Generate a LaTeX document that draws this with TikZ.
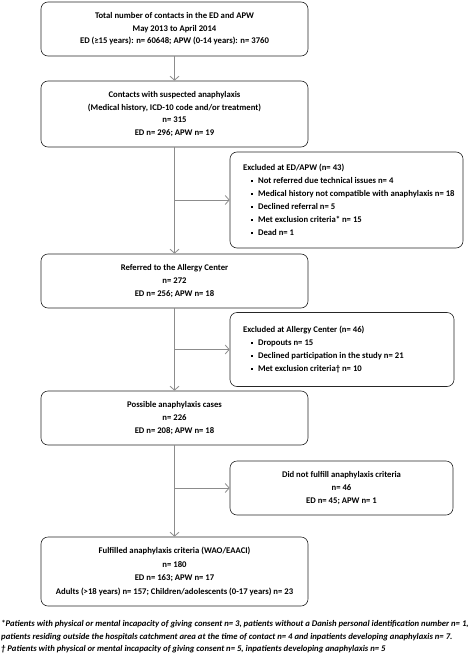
\documentclass[tikz,border=0pt]{standalone}
\usepackage{fontspec}
\setmainfont{Carlito}
\usetikzlibrary{arrows.meta}
\begin{document}
\begin{tikzpicture}[x=1bp,y=-1bp,
  box/.style={draw=black!85,line width=0.6bp,rounded corners=7bp,inner sep=0pt,
    font=\fontsize{8.7}{12.6}\selectfont\bfseries,align=center},
  conn/.style={draw=black!45,line width=0.8bp,-{Straight Barb[length=4bp,width=9bp,line width=0.8bp]}},
  txt/.style={inner sep=0pt,font=\fontsize{8.7}{13}\selectfont\bfseries},
  foot/.style={inner sep=0pt,font=\fontsize{8.7}{12.5}\selectfont\bfseries\itshape,align=left,anchor=north west}]
\newcommand{\bul}{\raisebox{1.5bp}{\rule{1.9bp}{1.9bp}}\hspace{5bp}}
\useasboundingbox (0,0) rectangle (473,655);
\node[box,minimum width=267bp,minimum height=54bp] (b1) at (174.5,29)
  {Total number of contacts in the ED and APW\\May 2013 to April 2014\\ED (≥15 years): n= 60648; APW (0-14 years): n= 3760};
\node[box,minimum width=267bp,minimum height=66bp] (b2) at (174.5,114)
  {Contacts with suspected anaphylaxis\\(Medical history, ICD-10 code and/or treatment)\\n= 315\\ED n= 296; APW n= 19};
\node[box,minimum width=233bp,minimum height=96bp] (e1) at (346.5,200) {};
\node[txt,anchor=west,align=left] (e1t) at (243,200)
  {Excluded at ED/APW (n= 43)\\
  \hspace{8bp}\bul Not referred due technical issues n= 4\\
  \hspace{8bp}\bul Medical history not compatible with anaphylaxis n= 18\\
  \hspace{8bp}\bul Declined referral n= 5\\
  \hspace{8bp}\bul Met exclusion criteria* n= 15\\
  \hspace{8bp}\bul Dead n= 1};
\node[box,minimum width=267bp,minimum height=54bp] (b3) at (174.5,281)
  {Referred to the Allergy Center\\n= 272\\ED n= 256; APW n= 18};
\node[box,minimum width=224bp,minimum height=74bp] (e2) at (342,349.5) {};
\node[txt,anchor=west,align=left] (e2t) at (243,349.5)
  {Excluded at Allergy Center (n= 46)\\
  \hspace{8bp}\bul Dropouts n= 15\\
  \hspace{8bp}\bul Declined participation in the study n= 21\\
  \hspace{8bp}\bul Met exclusion criteria† n= 10};
\node[box,minimum width=267bp,minimum height=54bp] (b4) at (174.5,418)
  {Possible anaphylaxis cases\\n= 226\\ED n= 208; APW n= 18};
\node[box,minimum width=223bp,minimum height=54bp] (e3) at (341.5,488)
  {Did not fulfill anaphylaxis criteria\\n= 46\\ED n= 45; APW n= 1};
\node[box,minimum width=267bp,minimum height=69bp,font=\fontsize{8.7}{13.5}\selectfont\bfseries] (b5) at (174.5,571.5)
  {Fulfilled anaphylaxis criteria (WAO/EAACI)\\n= 180\\ED n= 163; APW n= 17\\Adults (>18 years) n= 157; Children/adolescents (0-17 years) n= 23};
\node[foot,anchor=west] (f1) at (1,637)
  {*Patients with physical or mental incapacity of giving consent n= 3, patients without a Danish personal identification number n= 1,\\
  patients residing outside the hospitals catchment area at the time of contact n= 4 and inpatients developing anaphylaxis n= 7.\\
  † Patients with physical or mental incapacity of giving consent n= 5, inpatients developing anaphylaxis n= 5};
\draw[conn] (b1.south) -- (b2.north);
\draw[conn] (b2.south) -- (b3.north);
\draw[conn] (b2.south |- e1.west) -- (e1.west);
\draw[conn] (b3.south) -- (b4.north);
\draw[conn] (b3.south |- e2.west) -- (e2.west);
\draw[conn] (b4.south) -- (b5.north);
\draw[conn] (b4.south |- e3.west) -- (e3.west);
\end{tikzpicture}
\end{document}
